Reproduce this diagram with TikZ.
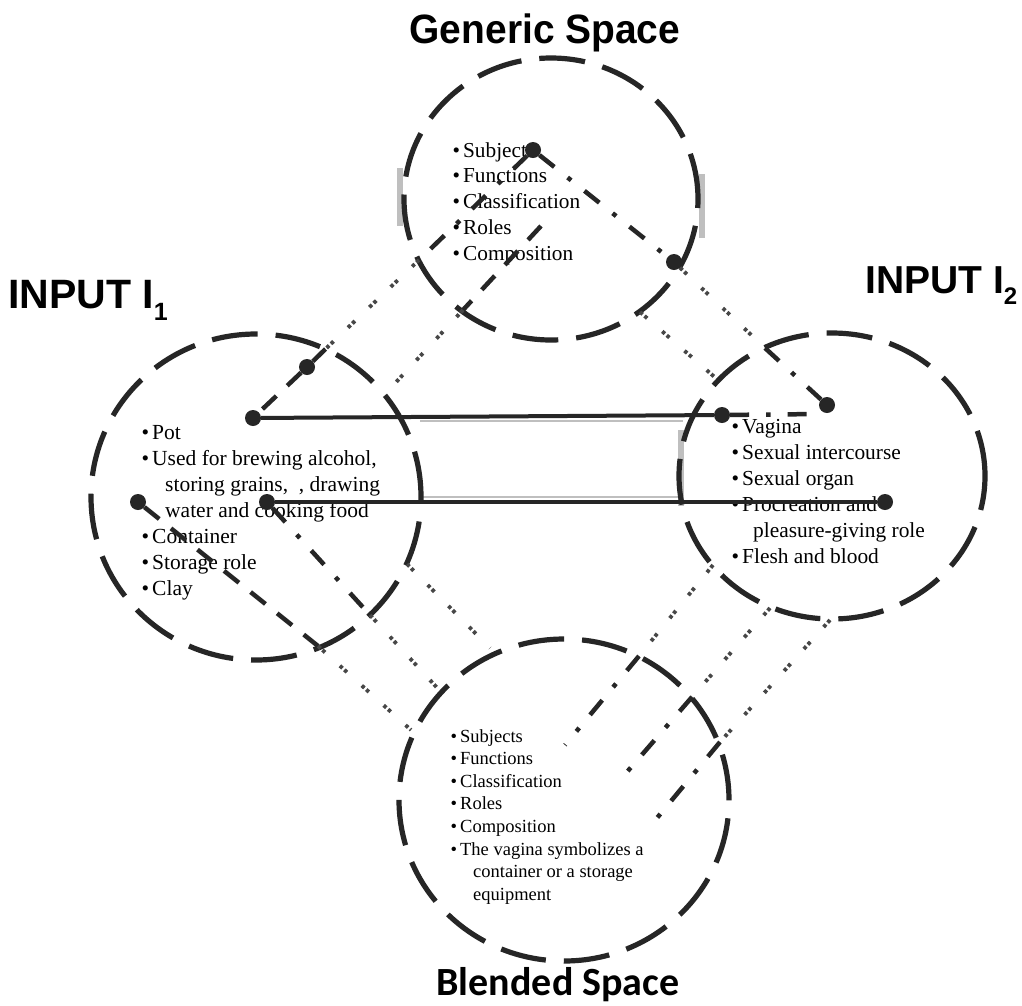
\documentclass[tikz,border=0pt]{standalone}
\usepackage{fontspec}
\usepackage{graphicx}
\setmainfont{Liberation Serif}
\newfontfamily\headfont{Liberation Sans}
\newfontfamily\blendhead{Carlito}
\usetikzlibrary{shapes.geometric}
\newcommand\bl{\textbullet\hspace{3pt}}

\begin{document}
\begin{tikzpicture}[x=1pt,y=-1pt,
  space/.style={draw=black!85, ellipse, line width=5.2pt, dash pattern=on 46pt off 18pt, inner sep=0pt, outer sep=0pt},
  knob/.style={circle, fill=black!85, inner sep=0pt, minimum size=16pt},
  solidlink/.style={draw=black!85, line width=4pt},
  dashlink/.style={draw=black!85, line width=4.5pt, dash pattern=on 19pt off 15pt},
  dashdotlink/.style={draw=black!85, line width=4.5pt, dash pattern=on 19pt off 17pt on 4.5pt off 17pt},
  pairlink/.style={draw=black!72, line width=3.8pt, dash pattern=on 3.5pt off 2.5pt on 3.5pt off 20pt},
  listtext/.style={inner sep=0pt, anchor=base west},
  smudge/.style={fill=gray!50}
]
\useasboundingbox (0,0) rectangle (1022,1005);
\fill[white] (0,0) rectangle (1022,1005);

% ---------- titles ----------
\node[inner sep=0pt, anchor=base, font=\headfont\bfseries\fontsize{41pt}{41pt}\selectfont] (tgen) at (545,43) {\scalebox{0.95}[1]{Generic Space}};
\node[inner sep=0pt, anchor=base west, font=\headfont\bfseries\fontsize{41pt}{41pt}\selectfont] (tin1) at (8,308) {INPUT I\raisebox{-12pt}{\fontsize{25pt}{25pt}\selectfont 1}};
\node[inner sep=0pt, anchor=base west, font=\headfont\bfseries\fontsize{39pt}{39pt}\selectfont] (tin2) at (865,293) {INPUT I\raisebox{-11pt}{\fontsize{24pt}{24pt}\selectfont 2}};
\node[inner sep=0pt, anchor=base, font=\blendhead\bfseries\fontsize{40pt}{40pt}\selectfont] (tbld) at (558,995) {Blended Space};

% ---------- lists ----------
\node[listtext, font=\fontsize{21.3pt}{25.8pt}\selectfont] (gtxt) at (452.5,157)
  {\begin{tabular}[t]{@{}l@{}}\bl Subjects\\ \bl Functions\\ \bl Classification\\ \bl Roles\\ \bl Composition\end{tabular}};
\node[listtext, font=\fontsize{21.5pt}{26pt}\selectfont] (i1txt) at (141.5,439)
  {\begin{tabular}[t]{@{}l@{}}\bl Pot\\ \bl Used for brewing alcohol,\\ \hspace*{23.5pt}storing grains,\ \ , drawing\\ \hspace*{23.5pt}water and cooking food\\ \bl Container\\ \bl Storage role\\ \bl Clay\end{tabular}};
\node[listtext, font=\fontsize{21.4pt}{26pt}\selectfont] (i2txt) at (731.5,433)
  {\begin{tabular}[t]{@{}l@{}}\bl Vagina\\ \bl Sexual intercourse\\ \bl Sexual organ\\ \bl Procreation and\\ \hspace*{21.5pt}pleasure-giving role\\ \bl Flesh and blood\end{tabular}};
\node[listtext, font=\fontsize{18.5pt}{22.6pt}\selectfont] (btxt) at (450.5,742)
  {\begin{tabular}[t]{@{}l@{}}\bl Subjects\\ \bl Functions\\ \bl Classification\\ \bl Roles\\ \bl Composition\\ \bl The vagina symbolizes a\\ \hspace*{22.5pt}container or a storage\\ \hspace*{22.5pt}equipment\end{tabular}};

% ---------- faint scan marks ----------
\fill[smudge] (397,168) rectangle (403,226);
\fill[smudge] (699,174) rectangle (705,238);
\fill[smudge] (678,430) rectangle (684,506);
\draw[gray!50, line width=1.2pt] (420,421) -- (683,421);
\draw[gray!50, line width=1.6pt] (420,497) -- (683,497);

% ---------- mental spaces ----------
\node[space, minimum width=294pt, minimum height=282pt] (gen) at (551,199) {};
\node[space, minimum width=330pt, minimum height=326pt] (in1) at (256,497) {};
\node[space, minimum width=306pt, minimum height=286pt] (in2) at (832,476) {};
\node[space, minimum width=330pt, minimum height=322pt] (bld) at (564,800) {};

% ---------- anchor dots ----------
\node[knob] (dS)   at (533,150) {};
\node[knob] (dG2)  at (674,262) {};
\node[knob] (dP1)  at (307,367) {};
\node[knob] (dPot) at (253,418) {};
\node[knob] (dL)   at (138,502) {};
\node[knob] (dW)   at (267,502) {};
\node[knob] (dV)   at (722,415) {};
\node[knob] (dV2)  at (827,405) {};
\node[knob] (dPr)  at (885,502) {};

% ---------- free ends on the circle borders ----------
\coordinate (aG)  at (419,260);
\coordinate (aI)  at (325.5,349);
\coordinate (bS)  at (541,226);
\coordinate (bG)  at (463,310);
\coordinate (bI)  at (386,393);
\coordinate (cG)  at (640,312);
\coordinate (cI)  at (718,380);
\coordinate (gI)  at (765,348);
\coordinate (vk)  at (820,414);
\coordinate (laI) at (407,564);
\coordinate (laB) at (490,648);
\coordinate (lbI) at (370,615);
\coordinate (lbB) at (441,692);
\coordinate (lcI) at (318,646);
\coordinate (lcB) at (411,730);
\coordinate (ldI) at (713,565);
\coordinate (ldB) at (639,656);
\coordinate (ldE) at (565,745);
\coordinate (leI) at (770,608);
\coordinate (leB) at (692,697);
\coordinate (leE) at (620,780);
\coordinate (lfI) at (830,620);
\coordinate (lfB) at (720,742);
\coordinate (lfE) at (647,830);

% ---------- generic space to the inputs ----------
\draw[dashdotlink] (dS) -- (aG);
\draw[pairlink] (aG) -- (aI);
\draw[dashlink] (aI) -- (dP1);
\draw[dashlink] (dP1) -- (dPot);
\draw[dashlink] (bS) -- (bG);
\draw[pairlink] (bG) -- (bI);
\draw[dashdotlink] (dS) -- (dG2);
\draw[pairlink] (dG2) -- (gI);
\draw[dashdotlink] (gI) -- (dV2);
\draw[pairlink] (cG) -- (cI);

% ---------- cross-space mappings ----------
\draw[solidlink] (dPot) -- (dV);
\draw[solidlink] (dW) -- (dPr);
\draw[dashdotlink] (dV) -- (vk) -- (dV2);

% ---------- inputs to the blend ----------
\draw[pairlink] (laI) -- (laB);
\draw[dashdotlink] (dW) -- (lbI);
\draw[pairlink] (lbI) -- (lbB);
\draw[dashlink] (dL) -- (lcI);
\draw[pairlink] (lcI) -- (lcB);
\draw[pairlink] (ldI) -- (ldB);
\draw[dashdotlink] (ldB) -- (ldE);
\draw[pairlink] (leI) -- (leB);
\draw[dashdotlink] (leB) -- (leE);
\draw[pairlink] (lfI) -- (lfB);
\draw[dashdotlink] (lfB) -- (lfE);
\end{tikzpicture}
\end{document}
